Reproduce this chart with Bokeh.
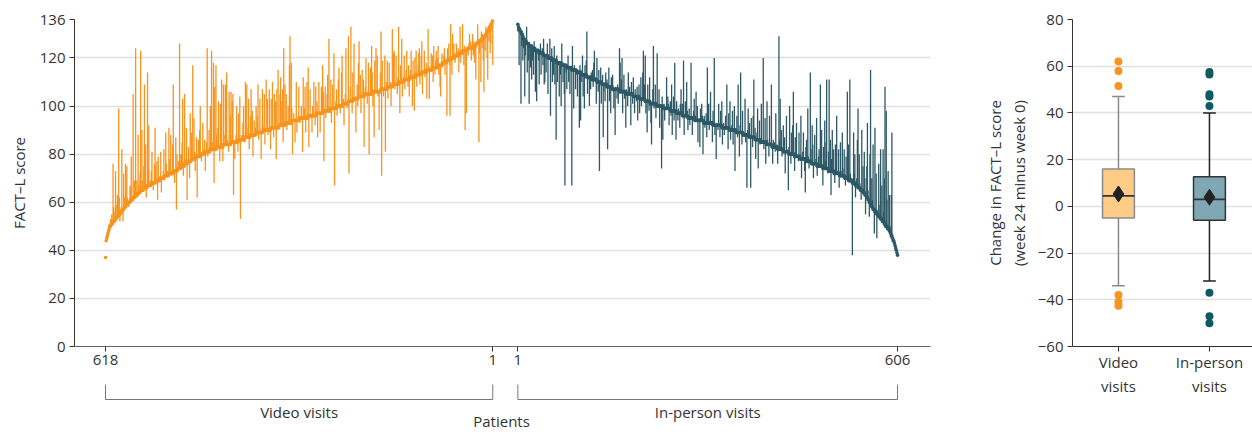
import numpy as np
from bokeh.plotting import figure
from bokeh.layouts import row, column
from bokeh.models import FixedTicker, Range1d
from bokeh.embed import file_html
from bokeh.resources import INLINE
from bokeh.core.properties import value

FONT = "Open Sans"
FS = "15px"
TXT = "#333333"
ORANGE = "#F7941D"
TEAL = "#2D5866"
N = None

# ---------------- data ----------------
# baseline FACT-L scores: number of patients at each score
video_scores = list(range(37, 137))
video_counts = [1, 0, 0, 0, 0, 0, 0, 1, 1, 1, 1, 1, 1, 2,
                3, 3, 3, 3, 3, 3, 3, 3, 3, 4, 4, 4, 4, 4, 5, 6, 6,
                7, 7, 7, 7, 7, 7,
                6, 5, 5, 6, 7, 7, 8, 8, 10, 11, 12, 12, 10, 9, 9, 11, 13, 13, 10, 10,
                12, 14, 13, 11, 11, 11, 10, 8, 8, 8, 10, 13, 13, 10,
                9, 9, 9, 9, 9, 9,
                9, 9, 9, 7, 7, 6, 7, 6, 6, 8, 8, 6, 4, 4, 4, 3,
                2, 2, 2, 2, 2, 1, 1]
inperson_scores = list(range(38, 135))
inperson_counts = [1, 1, 1, 1, 1, 1, 2, 1, 2, 1, 2, 3, 3, 2,
                   3, 3, 3, 3, 3, 3, 2, 2, 2, 2, 2, 3, 3, 4, 4, 4, 5, 6, 6, 8,
                   9, 9, 9, 9, 9, 9, 9, 9, 9, 9, 9, 9, 9, 9, 9, 9,
                   10, 11, 11, 12, 14, 15, 14, 11, 9, 9, 10, 11, 11, 10, 8, 9, 10,
                   11, 11, 11, 9, 8, 8, 8, 8, 8, 8, 8, 8, 8, 8,
                   7, 7, 7, 7, 6, 5, 5, 4, 3, 2, 1, 2, 2, 2, 1, 1]

# change (week 24 minus week 0) per patient; None = no week-24 score
# video: ordered by ascending baseline (patient 618 -> 1)
video_change = [
    N, N, N, 0, 1, N, 2, N, 3, N, 4, N, 24, 6, N, 3, 20, N, 5, 9,
    N, 44, 7, -3, N, 2, 26, N, -5, 15, 4, N, 18, N, 16, 3, N, -2, N, 7,
    5, 18, N, N, 43, N, 7, N, 61, N, 6, N, 24, 3, N, 8, 58, N, 25, 4,
    N, 9, 43, N, 18, -4, N, 47, 7, 25, N, 2, N, 5, 13, N, -3, N, 8, 23,
    6, N, 8, -8, 10, N, N, 1, 11, -6, N, N, 3, 12, -2, N, 18, 5, N, 2,
    N, 19, 6, N, 16, -1, N, 12, 36, N, -5, N, 14, -16, 7, N, 3, N, 52, 6,
    N, 5, 10, 28, -4, N, 29, N, 2, 15, -15, N, 6, N, -7, 20, N, 11, N, 39,
    N, 17, 3, -5, N, 8, -17, N, 7, N, 11, 20, N, -3, N, 13, 2, N, 6, -8,
    N, 4, 43, -2, N, 9, N, 18, N, 41, 3, N, 36, -14, 26, N, 35, 5, N, 8,
    19, N, -6, 18, N, 28, N, -6, 25, 4, N, 25, N, 30, 2, N, -3, 22, N, 12,
    21, N, 17, 20, -22, N, -7, N, 3, 15, N, -4, 11, N, 18, -33, N, 2, N, 7,
    14, N, -2, 23, N, 22, N, 4, 16, -5, N, 8, 19, N, 10, -9, N, 6, N, 3,
    11, N, 7, 20, -3, N, 14, N, -11, N, 18, 2, N, 15, -6, N, 21, N, 13, -2,
    N, 17, N, -8, 12, N, 19, N, -4, 14, N, 11, -13, 16, N, 24, N, -1, 13, 20,
    N, 10, 15, -7, 32, N, 17, N, 12, -3, N, 7, N, 24, 36, N, 25, 5, -14, N,
    3, N, -9, N, 16, -5, N, 2, 14, N, -2, N, 5, N, -14, 17, N, 4, 13, -6,
    N, 15, N, 20, -13, N, 11, -1, N, -7, 4, N, 14, N, -4, 12, N, 5, -10, N,
    13, N, -8, N, 11, N, 20, 8, -21, N, 10, -3, N, 7, 15, N, 30, N, -2, 12,
    -6, N, 10, N, 23, -32, N, 3, 8, -4, N, 11, 16, N, -3, N, 14, 21, N, 2,
    -9, N, 4, 23, N, -2, N, 27, -30, N, 6, 31, N, -5, 12, N, 23, N, 1, -14,
    N, 6, -3, 14, 23, N, 9, -7, N, 11, N, 7, -21, N, 3, 15, N, -4, N, 13,
    -25, N, 11, N, 20, 9, -6, N, -19, 13, N, 18, N, 15, -2, N, -16, N, 8, 24,
    -36, 12, N, -3, N, 14, -26, N, 3, 11, -5, N, 10, N, 2, -8, N, 24, N, 13,
    14, -2, N, 12, N, -4, 3, 23, N, -13, 7, N, 18, -6, N, 2, 10, -4, N, 4,
    12, N, -3, 6, -7, N, 3, 11, N, -12, 7, N, -14, 8, N, 10, -5, N, 4, 9,
    11, -4, N, 7, 13, -9, N, 1, 9, -2, N, 4, -12, N, 17, 2, -12, N, 1, 7,
    N, 5, -6, 9, N, -3, 3, 7, N, 4, 8, -4, N, -9, -13, N, 5, -2, N, 3,
    6, -5, N, 1, -23, 5, N, 7, -2, -23, 14, N, -7, 10, N, 6, 2, -3, N, 5,
    N, -1, 3, -8, N, 11, -4, N, 1, 11, N, -6, 2, -33, N, -26, 1, N, -3, 2,
    6, N, 3, -5, N, 5, -4, 2, -7, N, -14, 1, N, 8, 2, -42, -5, N, -17, 3,
    -4, 2, -9, -23, N, -6, 3, N, -11, -20, 0, -5, N, -11, -8, 1, -4, -19,
]

# in-person: ordered by descending baseline (patient 1 -> 606)
inperson_change = [
    -3, 0, -15, N, 1, -30, -5, N, -10, -4, N, -23, -6, N, 7, -12, N, -7, -24, N,
    -9, N, -14, -5, N, -11, 3, N, -17, -2, -21, N, 1, -4, -13, N, 4, -9, N, 2,
    -5, 7, -12, -11, N, -7, N, 5, -15, N, 0, 8, -24, N, 4, -9, N, -6, 6, -10,
    N, -33, 3, -8, N, -1, -14, N, -5, -18, 9, N, -7, 1, -12, -50, N, -3, -9, N,
    5, -6, N, -11, 0, N, -48, 10, N, -16, 2, N, -8, -2, N, -10, 1, N, -23, 3,
    -20, N, -3, 8, -9, N, -14, 4, N, 6, 19, -7, N, -1, -12, N, -5, 2, N, 4,
    -3, 7, 12, N, 1, -10, 10, N, -4, 5, -37, N, 6, -9, N, 4, -22, -3, N, -7,
    5, N, 3, -26, N, 8, -6, N, -11, 4, N, 6, -1, -8, N, -19, 1, N, -4, 2,
    -6, N, 18, 12, N, 5, 14, -9, N, 7, -3, N, -15, 2, N, -5, 9, N, 3, 1,
    -13, 5, N, -4, 8, N, -7, 3, N, -2, 4, -10, N, 5, -6, N, 9, -3, N, 11,
    20, N, 6, 19, -5, N, -13, 7, N, -4, 10, N, -8, -17, N, 6, 24, -2, N, 8,
    -6, N, 22, 1, N, 7, -9, N, 0, -26, 4, -14, N, 2, -5, N, 1, 13, N, 5,
    2, -7, N, 4, -2, 11, -10, N, 6, -4, 20, N, -12, 5, N, -3, 2, N, -6, 4,
    10, N, 5, 1, 23, -8, N, 6, N, 14, 2, -5, N, 4, -3, N, 23, 1, -7, N,
    3, 8, N, 2, 12, N, 6, -9, N, 1, -11, 5, N, 7, 2, -14, N, 3, -2, N,
    4, -6, 23, N, 8, -3, N, 13, -1, N, -8, 6, N, 28, -4, N, -14, 1, N, -2,
    9, N, -5, 6, N, 11, -7, N, 2, -3, N, 5, -1, 18, N, -9, 6, N, 12, -4,
    N, 2, 8, -6, N, 10, -17, N, 1, 7, -2, 20, N, -10, 3, 25, N, -5, 9, N,
    1, N, 15, -3, N, -22, 2, 11, N, 6, N, -21, 8, N, -4, 9, 24, N, 5, -8,
    N, 3, 13, -12, N, 8, -2, N, 16, 1, N, 35, -3, N, 10, -9, N, 18, 2, N,
    -5, 12, N, 1, 25, N, -7, 3, N, 2, -2, 14, N, 1, -6, N, 47, 4, 21, N,
    8, -3, N, 11, N, 6, -9, N, 15, 1, N, -16, 3, 20, N, -4, 9, N, 12, 26,
    N, -6, 8, N, 14, 1, N, -2, 10, N, 2, 18, -8, N, 3, 11, N, -5, -14, 6,
    9, N, 22, 2, -3, N, 37, 5, N, 16, 8, -6, N, 12, N, 2, 19, -4, N, 4,
    7, N, 34, 5, 15, N, -7, 9, N, 20, 3, 11, 37, N, -2, 8, 38, N, 13, -10,
    5, 17, N, 9, N, -4, 12, 3, 24, N, 1, 10, -6, N, 14, 2, N, 18, 3, N,
    11, N, -3, 9, N, 36, 7, 15, N, 42, 3, N, 1, -30, N, 21, 4, 12, -5, N,
    3, 19, 33, N, 14, 2, N, -4, 25, N, 11, N, 17, 7, -8, N, 13, 31, 4, N,
    -6, 20, 56, N, 12, 3, 27, N, -10, 35, N, 16, -10, N, 2, 22, N, 5, 29, N,
    14, N, 30, 4, 19, 57, N, 48, 11, N, 24, N, 15, 2, N, 17, 43, N, N, N,
    N, N, N, N, N, N,
]

# patient-axis tick labels
patient_ticks = ["618", "1", "1", "606"]
group_labels = ["Video visits", "In-person visits"]

# box-plot summary of change
box_q1 = [-5, -6]
box_median = [4.5, 3]
box_q3 = [16, 12.7]
box_lower = [-34, -32]
box_upper = [47, 40]
box_mean = [5.3, 3.9]
video_outliers = [62, 58, 51.5, -38, -41, -42.5]
inperson_outliers = [57.5, 56.5, 48, 47, 43, -37, -47, -50]
box_tick_labels = ["Video\nvisits", "In-person\nvisits"]

# ---------------- derived arrays ----------------
vb = np.repeat(np.array(video_scores, float), np.array(video_counts))
n_v = len(vb)
vc = np.array([np.nan if c is None else c for c in (video_change + [None] * n_v)[:n_v]], float)
vx = np.arange(n_v, dtype=float)

ib = np.repeat(np.array(inperson_scores, float), np.array(inperson_counts))[::-1]
n_i = len(ib)
ic = np.array([np.nan if c is None else c for c in (inperson_change + [None] * n_i)[:n_i]], float)
GAP = 40
ix = n_v - 1 + GAP + np.arange(n_i, dtype=float)

tick_pos = [0, n_v - 1, n_v - 1 + GAP, n_v - 1 + GAP + n_i - 1]

XR = Range1d(-49.4, tick_pos[3] + 52.5)


def style_axis(ax):
    ax.major_label_text_font = FONT
    ax.major_label_text_font_size = FS
    ax.major_label_text_color = TXT
    ax.axis_label_text_font = FONT
    ax.axis_label_text_font_size = FS
    ax.axis_label_text_color = TXT
    ax.axis_label_text_font_style = "normal"
    ax.minor_tick_line_color = None
    ax.major_tick_in = 0
    ax.major_tick_out = 5
    ax.major_label_standoff = 4


# ---------------- left panel ----------------
p = figure(frame_width=856, frame_height=327, x_range=XR, y_range=Range1d(0, 136),
           output_backend="svg", toolbar_location=None,
           min_border_left=74, min_border_right=10, min_border_top=19, min_border_bottom=28)
p.outline_line_color = None
p.xgrid.grid_line_color = None
p.ygrid.grid_line_color = "#e0e0e0"
p.ygrid.grid_line_width = 1.3
p.yaxis.ticker = FixedTicker(ticks=[0, 20, 40, 60, 80, 100, 120, 136])
p.ygrid.ticker = FixedTicker(ticks=[20, 40, 60, 80, 100, 120, 136])
p.xaxis.ticker = FixedTicker(ticks=tick_pos)
p.xaxis.major_label_overrides = {t: s for t, s in zip(tick_pos, patient_ticks)}
p.yaxis.axis_label = "FACT–L score"
p.yaxis.axis_label_standoff = 8
for ax in (p.xaxis[0], p.yaxis[0]):
    style_axis(ax)
p.xaxis.major_label_standoff = 3
p.yaxis.axis_line_color = "#333333"
p.yaxis.major_tick_line_color = "#333333"
p.xaxis.axis_line_color = "#666666"
p.xaxis.major_tick_line_color = "#333333"

mv = ~np.isnan(vc)
p.segment(x0=vx[mv], y0=vb[mv], x1=vx[mv], y1=(vb + vc)[mv],
          line_color=ORANGE, line_width=1.3, line_alpha=1.0)
mi = ~np.isnan(ic)
p.segment(x0=ix[mi], y0=ib[mi], x1=ix[mi], y1=(ib + ic)[mi],
          line_color=TEAL, line_width=1.3, line_alpha=1.0)
p.scatter(vx, vb, size=3.6, color=ORANGE, line_color=None)
p.scatter(ix, ib, size=3.6, color=TEAL, line_color=None)

# ---------------- bracket strip ----------------
b = figure(frame_width=856, frame_height=58, x_range=XR, y_range=Range1d(58, 0),
           output_backend="svg", toolbar_location=None, x_axis_type=None, y_axis_type=None,
           min_border_left=74, min_border_right=10, min_border_top=0, min_border_bottom=0)
b.outline_line_color = None
b.xgrid.grid_line_color = None
b.ygrid.grid_line_color = None
b.multi_line(xs=[[tick_pos[0], tick_pos[0], tick_pos[1], tick_pos[1]],
                 [tick_pos[2], tick_pos[2], tick_pos[3], tick_pos[3]]],
             ys=[[10, 25, 25, 10], [10, 25, 25, 10]], line_color="#777777", line_width=1)
b.text(x=[(tick_pos[0] + tick_pos[1]) / 2, (tick_pos[2] + tick_pos[3]) / 2],
       y=[37], text=group_labels, text_font=value(FONT), text_font_size=FS,
       text_color=TXT, text_align="center", text_baseline="middle") if False else None
b.text(x=[(tick_pos[0] + tick_pos[1]) / 2, (tick_pos[2] + tick_pos[3]) / 2],
       y=[37, 37], text=group_labels, text_font=value(FONT), text_font_size=FS,
       text_color=TXT, text_align="center", text_baseline="middle")
b.text(x=[(tick_pos[0] + tick_pos[3]) / 2], y=[46.5], text=["Patients"],
       text_font=value(FONT), text_font_size=FS, text_color=TXT,
       text_align="center", text_baseline="middle")

# ---------------- right panel ----------------
q = figure(frame_width=180, frame_height=327, x_range=Range1d(-0.505, 1.473),
           y_range=Range1d(-60, 80), output_backend="svg", toolbar_location=None,
           min_border_left=132, min_border_right=0, min_border_top=19, min_border_bottom=86)
q.outline_line_color = None
q.xgrid.grid_line_color = None
q.ygrid.grid_line_color = "#e0e0e0"
q.ygrid.grid_line_width = 1.3
q.yaxis.ticker = FixedTicker(ticks=[-60, -40, -20, 0, 20, 40, 60, 80])
q.ygrid.ticker = FixedTicker(ticks=[-40, -20, 0, 20, 40, 60, 80])
q.xaxis.ticker = FixedTicker(ticks=[0, 1])
q.xaxis.major_label_overrides = {0: box_tick_labels[0], 1: box_tick_labels[1]}
q.yaxis.axis_label = "Change in FACT–L score\n(week 24 minus week 0)"
for ax in (q.xaxis[0], q.yaxis[0]):
    style_axis(ax)
q.yaxis.axis_label_standoff = 6
q.xaxis.axis_line_color = "#333333"
q.yaxis.axis_line_color = "#333333"
q.xaxis.major_tick_line_color = "#333333"
q.yaxis.major_tick_line_color = "#333333"
q.xaxis.major_label_standoff = 0

xs = [0, 1]
W = 0.35
C = 0.07
whisk_col = ["#8a8a8a", "#222222"]
box_fill = ["#FFCC88", "#80A8B4"]
box_line = ["#8a8a8a", "#333333"]
q.segment(x0=xs, y0=box_lower, x1=xs, y1=box_q1, line_color=whisk_col, line_width=1.5)
q.segment(x0=xs, y0=box_q3, x1=xs, y1=box_upper, line_color=whisk_col, line_width=1.5)
q.segment(x0=[x - C for x in xs], y0=box_lower, x1=[x + C for x in xs], y1=box_lower,
          line_color=whisk_col, line_width=1.5)
q.segment(x0=[x - C for x in xs], y0=box_upper, x1=[x + C for x in xs], y1=box_upper,
          line_color=whisk_col, line_width=1.5)
q.vbar(x=xs, width=W, bottom=box_q1, top=box_q3, fill_color=box_fill,
       line_color=box_line, line_width=1.5)
q.segment(x0=[x - W / 2 for x in xs], y0=box_median, x1=[x + W / 2 for x in xs], y1=box_median,
          line_color="#333333", line_width=1.8)
q.scatter(xs, box_mean, marker="diamond", size=16, fill_color="#222222", line_color="#222222")
q.scatter([0] * len(video_outliers), video_outliers, size=8, color=ORANGE, line_color=None)
q.scatter([1] * len(inperson_outliers), inperson_outliers, size=8, color="#0E5A63", line_color=None)

layout = row(column(p, b), q)
open("out.html", "w").write(file_html(layout, INLINE))
